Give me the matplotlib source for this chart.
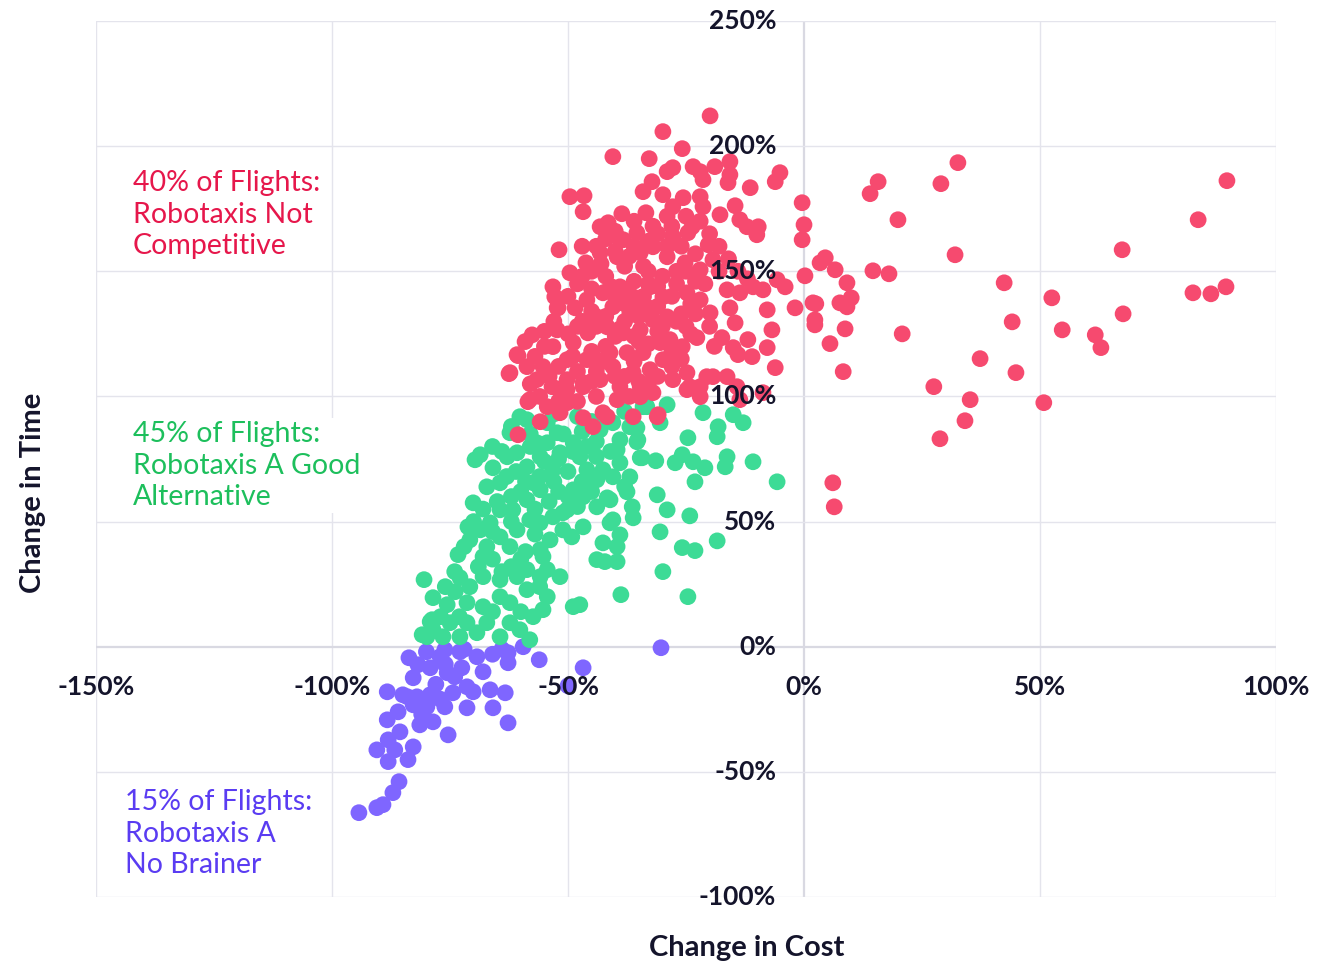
import matplotlib.pyplot as plt

# values: (change in cost %, change in time %)
purple_points = [
    (-83.7, -4.4), (-81.8, -7.2), (-79.2, -8.4), (-82.8, -12.4), (-77.1, -4.0), (-76.1, -1.2),
    (-72.9, -2.0), (-69.3, -4.0), (-72.5, -8.4), (-75.6, -10.4), (-88.3, -18.0), (-85.0, -19.2),
    (-82.0, -20.0), (-79.2, -19.2), (-82.8, -23.2), (-79.9, -24.0), (-76.1, -24.0), (-74.4, -18.4),
    (-71.4, -16.0), (-70.1, -18.0), (-66.5, -17.2), (-63.3, -18.4), (-71.4, -24.4), (-65.9, -24.4),
    (-62.7, -30.4), (-88.3, -29.2), (-78.6, -30.0), (-81.4, -31.2), (-75.4, -35.2), (-85.6, -34.0),
    (-88.1, -37.2), (-82.8, -40.0), (-90.5, -41.2), (-86.7, -41.2), (-88.1, -45.9), (-83.9, -45.1),
    (-85.8, -53.9), (-87.1, -58.3), (-89.2, -63.1), (-90.5, -64.3), (-94.3, -66.3), (-62.7, -2.4),
    (-62.7, -6.4), (-59.5, 0.0), (-56.1, -5.2), (-46.8, -8.4), (-30.3, -0.4), (-50.0, -15.6),
    (-84, -20), (-80, -22), (-77, -21), (-86, -26), (-81, -27), (-78, -15), (-74, -12),
    (-68, -10), (-80, -2), (-76, -7), (-72, -1), (-66, -3), (-64, -1),
]

green_points = [
    (-21.4, 93.5), (-15.0, 92.7), (-12.9, 89.5), (-18.2, 87.9), (-18.4, 83.9), (-24.6, 83.5),
    (-29.0, 96.7), (-30.5, 89.5), (-34.1, 95.9), (-16.3, 75.9), (-16.7, 71.9), (-10.8, 73.9),
    (-5.7, 65.9), (-21.0, 71.5), (-23.5, 73.9), (-27.3, 73.5), (-25.8, 76.7), (-31.4, 74.3),
    (-34.3, 75.5), (-23.1, 65.9), (-31.1, 60.7), (-29.0, 54.7), (-24.2, 52.3), (-18.4, 42.3),
    (-23.1, 38.4), (-25.8, 39.6), (-30.5, 45.9), (-29.9, 30.0), (-38.8, 20.8), (-24.6, 20.0),
    (-36.2, 51.5), (-36.4, 55.9), (-37.5, 61.9), (-39.0, 44.7), (-39.6, 40.0), (-39.6, 34.0),
    (-42.2, 34.0), (-42.6, 41.5), (-41.1, 49.5), (-41.7, 59.5), (-36.9, 67.9), (-39.0, 73.5),
    (-35.4, 81.9), (-39.0, 82.7), (-35.4, 87.5), (-40.5, 89.5),
    (-80.5, 26.8), (-78.6, 19.6), (-78.8, 10.8), (-79.9, 4.0), (-75.6, 16.8), (-73.9, 22.0),
    (-72.9, 27.6), (-73.3, 36.8), (-71.2, 47.9), (-70.1, 57.5), (-68.6, 76.7), (-69.7, 74.7),
    (-67.2, 63.9), (-65.9, 71.5), (-64.4, 65.5), (-62.9, 75.9), (-62.3, 85.5), (-60.2, 91.9),
    (-60.8, 77.5), (-58.7, 71.9), (-57.4, 65.5), (-55.9, 75.9), (-54.4, 81.5), (-53.2, 70.7),
    (-51.7, 77.5), (-55.9, 62.7), (-58.7, 58.7), (-61.7, 54.7), (-64.4, 54.7), (-66.5, 49.5),
    (-68.6, 46.7), (-70.8, 42.7), (-67.2, 40.0), (-64.4, 43.9), (-62.3, 40.0), (-60.8, 46.7),
    (-58.1, 50.7), (-55.9, 49.5), (-53.2, 51.9), (-50.2, 54.7), (-51.1, 46.7), (-53.8, 42.7),
    (-55.9, 38.8), (-55.3, 36.0), (-58.7, 30.8), (-60.8, 28.0), (-64.4, 26.8), (-68.0, 28.0),
    (-70.8, 24.0), (-71.4, 17.6), (-68.0, 16.0), (-64.4, 20.0), (-62.3, 17.6), (-58.7, 22.8),
    (-55.9, 28.0), (-54.4, 30.8), (-51.7, 28.0), (-54.4, 20.0), (-55.3, 14.8), (-57.4, 12.0),
    (-62.3, 9.6), (-67.2, 9.6), (-71.4, 9.6), (-75.0, 9.6), (-78.6, 6.8), (-76.5, 4.0),
    (-72.9, 4.0), (-69.3, 5.6), (-64.4, 4.0), (-60.2, 6.8), (-58.1, 2.8), (-47.5, 16.8),
    (-48.9, 16.0), (-43.9, 34.8), (-46.8, 47.9), (-49.2, 43.9), (-51.1, 53.5), (-48.9, 62.7),
    (-46.8, 59.9), (-43.9, 55.9), (-43.9, 66.7), (-42.6, 70.7), (-46.0, 70.7), (-47.5, 75.9),
    (-48.9, 81.5), (-52.3, 85.5), (-54.4, 89.5), (-58.7, 90.7), (-56.6, 81.5), (-43.2, 86.7),
    (-36.9, 87.9), (-33.3, 95.9), (-35.2, 82.7), (-34.7, 75.5), (-39.6, 78.7), (-40.5, 67.9),
    (-40.5, 50.7), (-41.1, 58.7), (-80.9, 4.8), (-79.2, 10.0),
    (-66, 80), (-63, 68), (-60, 62), (-58, 80), (-56, 68), (-52, 62), (-50, 70), (-48, 56),
    (-46, 80), (-44, 76), (-62, 60), (-65, 58), (-68, 55), (-70, 50), (-72, 40), (-66, 35),
    (-62, 32), (-74, 30), (-76, 24), (-77, 12), (-73, 12), (-66, 14), (-60, 14), (-64, 30),
    (-68, 36), (-59, 38), (-57, 55), (-54, 58), (-51, 85), (-45, 90), (-42, 92), (-38, 94),
    (-48, 92), (-53, 93), (-62, 88), (-64, 78), (-58, 85), (-55, 74), (-49, 78), (-44, 82),
    (-61, 70), (-59, 66), (-53, 66), (-50, 60), (-47, 66), (-45, 62), (-62, 50), (-57, 45),
    (-66, 46), (-60, 35), (-56, 24), (-69, 32), (-52, 75), (-41, 78), (-38, 64), (-47, 86),
]

red_points = [
    # far right / upper outliers
    (32.6, 193.4), (29.0, 185.0), (15.7, 185.8), (14.0, 181.0), (19.9, 170.6), (32.0, 156.6),
    (89.6, 186.2), (83.5, 170.6), (67.4, 158.6), (82.4, 141.4), (86.2, 141.0), (89.4, 143.8),
    (67.6, 133.0), (52.5, 139.4), (54.7, 126.6), (61.7, 124.6), (62.9, 119.5), (44.1, 129.8),
    (42.4, 145.4), (37.3, 115.1), (44.9, 109.5), (50.8, 97.5), (27.5, 103.9), (35.2, 98.7),
    (34.1, 90.3), (28.8, 83.1), (6.1, 65.5), (6.4, 55.9), (8.3, 109.9), (20.8, 125.0),
    (14.6, 150.2), (18.0, 149.0), (8.7, 127.0), (5.5, 121.1), (2.5, 137.0), (2.3, 130.6),
    (2.3, 128.6), (7.6, 137.4), (9.1, 135.8), (10.0, 139.4), (9.1, 145.4), (6.6, 150.6),
    (4.5, 155.4), (3.4, 153.4), (0.2, 148.2), (0.0, 168.6), (-0.4, 177.4), (-0.4, 162.6),
    # main cluster
    (-19.9, 212.1), (-29.9, 205.8), (-25.8, 199.0), (-40.5, 195.8), (-32.8, 195.0), (-15.7, 193.8),
    (-18.9, 191.8), (-23.5, 191.8), (-27.8, 191.4), (-29.0, 189.8), (-22.0, 189.8), (-21.4, 186.6),
    (-15.7, 188.6), (-5.1, 189.4), (-6.1, 185.8), (-11.4, 183.4), (-16.1, 185.4), (-32.2, 185.8),
    (-34.1, 181.8), (-29.9, 180.6), (-25.6, 179.4), (-22.0, 179.8), (-21.4, 175.8), (-14.6, 176.2),
    (-17.8, 172.6), (-13.6, 170.6), (-12.1, 167.8), (-9.7, 167.8), (-10.0, 164.6), (-49.6, 179.8),
    (-46.6, 180.2), (-46.8, 173.8), (-38.6, 173.0), (-33.5, 173.4), (-43.2, 167.8), (-41.5, 169.4),
    (-27.8, 175.8), (-23.7, 167.8), (-24.6, 165.4), (-20.3, 160.6), (-27.8, 163.8), (-32.0, 159.8),
    (-35.4, 165.4), (-38.3, 162.6), (-39.6, 163.8), (-51.9, 158.6), (-49.6, 149.4), (-46.2, 153.4),
    (-43.2, 157.4), (-39.6, 155.8), (-34.7, 157.4), (-29.0, 155.8), (-25.2, 153.4), (-22.0, 150.6),
    (-19.3, 154.6), (-16.3, 142.6), (-13.6, 141.4), (-10.8, 143.8), (-8.7, 142.6), (-5.7, 146.6),
    (-4.0, 143.8), (1.9, 137.4), (-1.9, 135.4), (-7.8, 134.6), (-6.8, 126.6), (-7.8, 119.5),
    (-6.1, 111.5), (-15.7, 135.4), (-14.6, 129.4), (-17.4, 123.5), (-15.0, 119.5), (-11.9, 122.7),
    (-11.0, 115.9), (-14.0, 116.7), (-19.9, 133.4), (-22.0, 138.6), (-24.8, 141.4), (-22.7, 123.5),
    (-25.8, 119.9), (-28.4, 122.7), (-24.8, 109.5), (-27.8, 106.7), (-19.3, 107.9), (-22.0, 103.9),
    (-16.3, 107.9), (-53.2, 143.8), (-52.8, 139.8), (-52.1, 135.4), (-48.5, 135.4), (-57.6, 124.6),
    (-59.1, 121.9), (-60.8, 116.7), (-62.3, 109.5), (-58.7, 111.9), (-52.3, 126.6), (-53.2, 119.9),
    (-55.3, 111.9), (-56.6, 106.7), (-53.4, 103.9), (-50.2, 106.7), (-46.8, 105.5), (-43.9, 114.7),
    (-48.9, 121.5), (-45.8, 125.4), (-43.9, 131.8), (-46.0, 138.6), (-42.6, 141.4), (-39.0, 143.8),
    (-36.2, 139.8), (-32.6, 143.8), (-29.9, 139.8), (-33.3, 135.8), (-36.9, 133.4), (-40.5, 135.8),
    (-41.7, 127.8), (-38.3, 125.4), (-34.7, 126.6), (-32.0, 130.6), (-29.0, 131.8), (-30.5, 121.5),
    (-34.1, 117.5), (-37.5, 117.5), (-41.1, 117.5), (-40.5, 111.9), (-36.2, 109.5), (-32.6, 110.7),
    (-29.9, 114.7), (-34.7, 103.9), (-39.0, 103.9), (-43.2, 106.7), (-46.8, 103.9), (-50.2, 102.7),
    (-46.0, 114.7), (-50.2, 114.7), (-32.0, 101.5), (-52.3, 135.4),
    # lower edge of the cluster
    (-58.1, 98.7), (-60.6, 84.7), (-55.9, 89.9), (-54.4, 95.9), (-51.7, 93.5), (-50.2, 97.5),
    (-46.8, 91.5), (-44.7, 87.9), (-41.7, 91.9), (-36.2, 91.9), (-31.1, 91.9), (-39.6, 98.7),
    (-34.7, 99.9), (-24.8, 102.7), (-22.0, 99.9), (-13.6, 98.7), (-14.2, 103.9), (-8.7, 101.5),
    (-20.6, 107.9), (-24.2, 103.9), (-30.9, 92.7), (-62.5, 109.1), (-60.6, 116.3), (-58.5, 97.9),
    (-42.6, 93.5),
    # dense core
    (-45, 150), (-42, 148), (-38, 152), (-36, 146), (-33, 150), (-30, 148), (-27, 145), (-25, 150),
    (-44, 160), (-40, 158), (-36, 160), (-31, 165), (-28, 168), (-25, 172), (-22, 170), (-20, 165),
    (-18, 160), (-48, 145), (-50, 140), (-47, 130), (-44, 128), (-42, 120), (-38, 130), (-34, 140),
    (-31, 136), (-27, 130), (-25, 128), (-23, 133), (-20, 128), (-19, 120), (-26, 115), (-31, 108),
    (-36, 114), (-44, 110), (-48, 110), (-52, 112), (-55, 120), (-58, 105), (-56, 100), (-52, 98),
    (-48, 98), (-44, 100), (-40, 108), (-37, 100), (-33, 105), (-28, 112), (-30, 128), (-35, 132),
    (-40, 140), (-45, 143), (-38, 137), (-33, 145), (-28, 140), (-24, 137), (-21, 145), (-18, 150),
    (-14, 150), (-12, 147), (-16, 155), (-36, 170), (-32, 168), (-29, 172), (-26, 160), (-23, 157),
    (-42, 163), (-47, 160), (-50, 125), (-53, 130), (-45, 118), (-40, 124), (-35, 122),
    (-43, 153), (-41, 144), (-37, 156), (-34, 152), (-31, 144), (-29, 160), (-27, 150), (-23, 146),
    (-47, 148), (-45, 134), (-42, 132), (-39, 127), (-36, 124), (-33, 121), (-28, 118), (-24, 125),
    (-26, 133), (-31, 126), (-35, 136), (-38, 142), (-42, 114), (-38, 108), (-35, 106), (-45, 106),
    (-49, 116), (-54, 108), (-57, 116), (-52, 103), (-48, 128), (-55, 126), (-40, 166), (-33, 162),
]

x_ticks = [-150, -100, -50, 0, 50, 100]
y_ticks = [-100, -50, 0, 50, 100, 150, 200, 250]

plt.rcParams['font.family'] = ['Lato', 'DejaVu Sans']
fig = plt.figure(figsize=(13.37, 9.63), dpi=100)
ax = fig.add_axes([0.0718, 0.0685, 0.8826, 0.9097])
ax.set_xlim(-150, 100)
ax.set_ylim(-100, 250)

for s in ax.spines.values():
    s.set_visible(False)
ax.set_xticks([])
ax.set_yticks([])

grid_c = '#e4e4ec'
for v in x_ticks:
    ax.axvline(v, color='#d9d9e2' if v == 0 else grid_c, lw=1.6 if v == 0 else 1.0, zorder=0)
for v in y_ticks:
    ax.axhline(v, color='#d9d9e2' if v == 0 else grid_c, lw=1.6 if v == 0 else 1.0, zorder=0)

groups = [
    (purple_points, '#7f66ff'),
    (green_points, '#3ddb96'),
    (red_points, '#f64a6f'),
]
for pts, col in groups:
    xs = [p[0] for p in pts]
    ys = [p[1] for p in pts]
    ax.scatter(xs, ys, s=145, color=col, edgecolors='none', zorder=3)

tick_c = '#14142b'
for v in x_ticks:
    ax.annotate(f'{v}%', xy=(v, 0), xytext=(0, -29), textcoords='offset points',
                ha='center', va='center', fontsize=19, fontweight='bold', color=tick_c, zorder=10)
for v in y_ticks:
    ax.annotate(f'{v}%', xy=(0, v), xytext=(-20, 0), textcoords='offset points',
                ha='right', va='center', fontsize=19, fontweight='bold', color=tick_c, zorder=10)

box = dict(facecolor='white', edgecolor='none', pad=2)
ax.text(-142.2, 172.6, '40% of Flights:\nRobotaxis Not\nCompetitive', color='#e6174b',
        fontsize=20.5, ha='left', va='center', linespacing=1.27, bbox=box, zorder=6)
ax.text(-142.2, 72.3, '45% of Flights:\nRobotaxis A Good\nAlternative', color='#1dbf5c',
        fontsize=20.5, ha='left', va='center', linespacing=1.27, bbox=box, zorder=6)
ax.text(-143.9, -74.7, '15% of Flights:\nRobotaxis A\nNo Brainer', color='#5a3cf2',
        fontsize=20.5, ha='left', va='center', linespacing=1.27, bbox=box, zorder=6)

fig.text(0.5587, 0.0156, 'Change in Cost', ha='center', va='center',
         fontsize=21, fontweight='bold', color=tick_c)
fig.text(0.0247, 0.488, 'Change in Time', ha='center', va='center', rotation=90,
         fontsize=21, fontweight='bold', color=tick_c)

fig.savefig('out.png', dpi=100)
